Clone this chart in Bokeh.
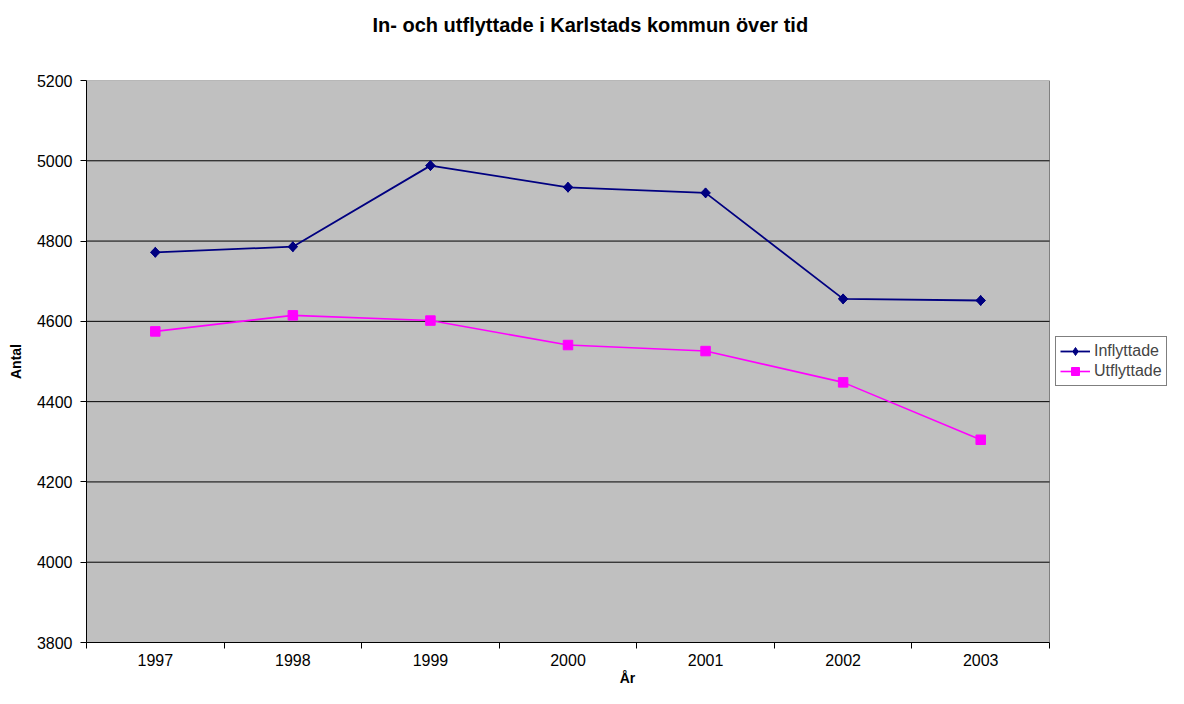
import math
from bokeh.plotting import figure
from bokeh.models import (ColumnDataSource, FixedTicker, Legend, LegendItem, Range1d, Title)
from bokeh.embed import file_html
from bokeh.resources import INLINE

years = ["1997", "1998", "1999", "2000", "2001", "2002", "2003"]
inflyttade = [4772, 4786, 4988, 4934, 4920, 4656, 4652]
utflyttade = [4575, 4615, 4602, 4541, 4526, 4448, 4305]
y_ticks = [3800, 4000, 4200, 4400, 4600, 4800, 5000, 5200]

n = len(years)
xpos = [i + 0.5 for i in range(n)]
src = ColumnDataSource(dict(x=xpos, inf=inflyttade, utf=utflyttade))

FONT = "Liberation Sans"

# The frame covers the plot area plus the legend column on the right;
# the data area (0..n) occupies the left 963 px of it.
FRAME_W = 1082
PLOT_W = 963
x_end = n * FRAME_W / PLOT_W

p = figure(width=1168, height=688, frame_width=FRAME_W, frame_height=562,
           output_backend="svg", toolbar_location=None,
           x_range=Range1d(0, x_end), y_range=Range1d(y_ticks[0], y_ticks[-1]),
           min_border_left=86, min_border_right=0, min_border_top=80, min_border_bottom=42)
p.background_fill_color = "white"
p.border_fill_color = "white"
p.outline_line_color = None

# plot area background and border
p.quad(left=0, right=n, bottom=y_ticks[0], top=y_ticks[-1],
       fill_color="#C0C0C0", line_color="#808080", line_width=1)

# horizontal gridlines restricted to the plot area
p.segment(x0=[0] * (len(y_ticks) - 2), x1=[n] * (len(y_ticks) - 2),
          y0=y_ticks[1:-1], y1=y_ticks[1:-1], line_color="black", line_width=1)

# title (outermost) and an invisible spacer between it and the frame
p.title.text = "In- och utflyttade i Karlstads kommun över tid"
p.title.text_font = FONT
p.title.text_font_size = "20px"
p.title.text_font_style = "bold"
p.title.text_color = "black"
p.title.align = "left"
p.title.offset = 286
p.title.vertical_align = "top"
p.title.standoff = 22
p.add_layout(Title(text=" ", text_font_size="1px", standoff=29), "above")

# x axis: labels at category centers, ticks between categories
p.xaxis.ticker = FixedTicker(ticks=xpos, minor_ticks=list(range(n + 1)))
p.xaxis.bounds = (0, n)
p.xaxis.major_label_overrides = {x: y for x, y in zip(xpos, years)}
p.xaxis.major_tick_line_color = None
p.xaxis.major_tick_out = 6
p.xaxis.major_tick_in = 0
p.xaxis.minor_tick_out = 6
p.xaxis.minor_tick_in = 0
p.xaxis.minor_tick_line_color = "black"
p.xaxis.major_label_standoff = 5
p.xaxis.axis_label = "År"
p.xaxis.axis_label_standoff = 1

p.yaxis.ticker = FixedTicker(ticks=y_ticks)
p.yaxis.major_tick_out = 6
p.yaxis.major_tick_in = 0
p.yaxis.minor_tick_line_color = None
p.yaxis.major_label_standoff = 8
p.yaxis.axis_label = "Antal"
p.yaxis.axis_label_standoff = 10

for ax in (p.xaxis, p.yaxis):
    ax.axis_line_color = "black"
    ax.axis_line_width = 1
    ax.major_label_text_font = FONT
    ax.major_label_text_font_size = "16px"
    ax.major_label_text_color = "black"
    ax.axis_label_text_font = FONT
    ax.axis_label_text_font_size = "14px"
    ax.axis_label_text_font_style = "bold"
    ax.axis_label_text_color = "black"

p.xgrid.visible = False
p.ygrid.visible = False

l1 = p.line("x", "inf", source=src, line_color="#000080", line_width=1.8)
d1 = p.scatter("x", "inf", source=src, marker="diamond", size=10,
               fill_color="#000080", line_color="#000080")
m1 = p.scatter("x", "inf", source=src, marker="square", angle=math.pi / 4, size=6.8,
               fill_color="#000080", line_color="#000080")
l2 = p.line("x", "utf", source=src, line_color="#FF00FF", line_width=1.6)
m2 = p.scatter("x", "utf", source=src, marker="square", size=9.5,
               fill_color="#FF00FF", line_color="#FF00FF")

legend = Legend(items=[LegendItem(label="Inflyttade", renderers=[l1, d1]),
                       LegendItem(label="Utflyttade", renderers=[l2, m2])],
                location=(969, 256))
legend.label_text_font = FONT
legend.label_text_font_size = "16px"
legend.label_height = 20
legend.glyph_height = 20
legend.glyph_width = 30
legend.label_standoff = 4
legend.padding = 4
legend.spacing = 0
legend.margin = 0
legend.border_line_color = "black"
legend.border_line_width = 1
legend.background_fill_color = "white"
legend.background_fill_alpha = 1
p.add_layout(legend)

open("out.html", "w").write(file_html(p, INLINE))
